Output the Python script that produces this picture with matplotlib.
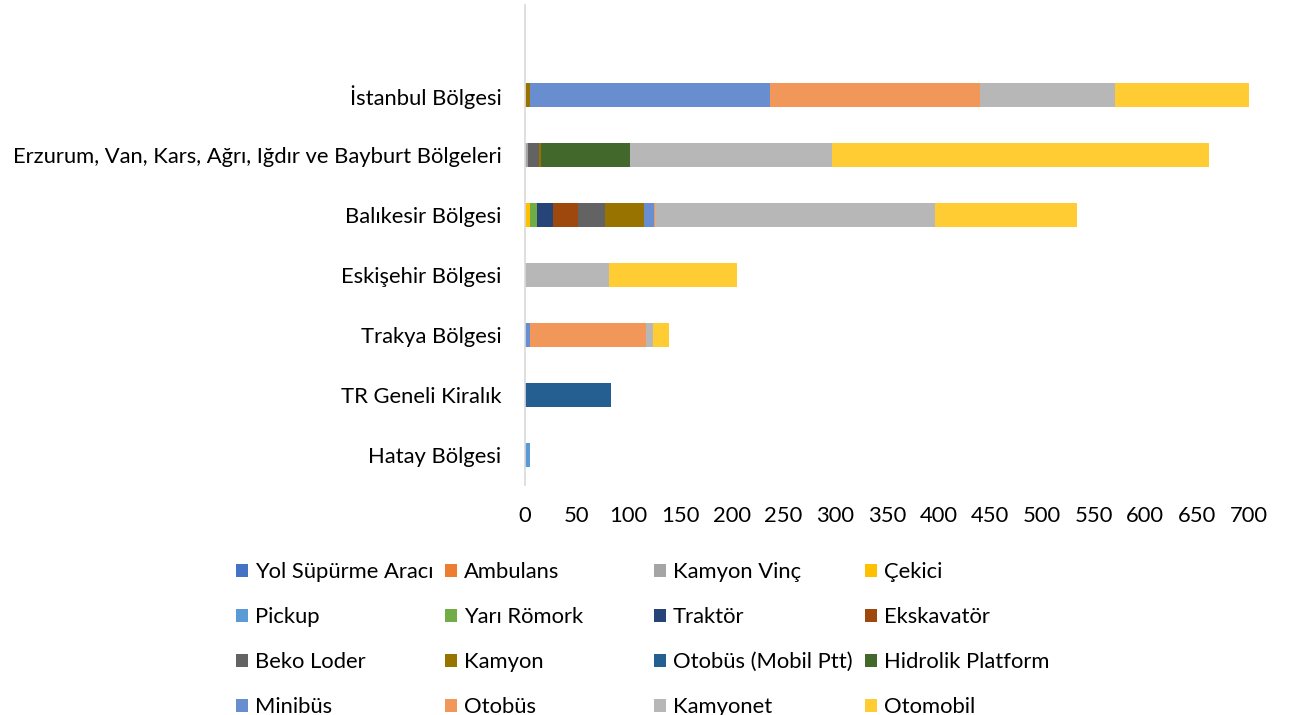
import matplotlib
matplotlib.use("Agg")
import matplotlib.pyplot as plt
import numpy as np

categories = ["Hatay Bölgesi", "TR Geneli Kiralık", "Trakya Bölgesi", "Eskişehir Bölgesi",
              "Balıkesir Bölgesi", "Erzurum, Van, Kars, Ağrı, Iğdır ve Bayburt Bölgeleri",
              "İstanbul Bölgesi"]

series_names = ["Yol Süpürme Aracı", "Ambulans", "Kamyon Vinç", "Çekici",
                "Pickup", "Yarı Römork", "Traktör", "Ekskavatör",
                "Beko Loder", "Kamyon", "Otobüs (Mobil Ptt)", "Hidrolik Platform",
                "Minibüs", "Otobüs", "Kamyonet", "Otomobil"]

# values per series, ordered as categories (Hatay ... İstanbul)
yol_supurme = [0, 0, 0, 0, 0, 0, 0]
ambulans    = [0, 0, 0, 0, 0, 0, 1]
kamyon_vinc = [0, 0, 0, 0, 0, 3, 0]
cekici      = [0, 0, 0, 0, 5, 0, 0]
pickup      = [5, 0, 0, 0, 0, 0, 0]
yari_romork = [0, 0, 0, 0, 7, 0, 0]
traktor     = [0, 0, 0, 0, 15, 0, 0]
ekskavator  = [0, 0, 0, 0, 24, 0, 0]
beko_loder  = [0, 0, 0, 0, 26, 11, 0]
kamyon      = [0, 0, 0, 0, 38, 1, 4]
otobus_ptt  = [0, 83, 0, 0, 0, 0, 0]
hidrolik    = [0, 0, 0, 0, 0, 87, 0]
minibus     = [0, 0, 5, 0, 10, 0, 232]
otobus      = [0, 0, 112, 0, 1, 0, 203]
kamyonet    = [0, 0, 7, 81, 271, 195, 131]
otomobil    = [0, 0, 15, 124, 137, 365, 132]

series_values = [yol_supurme, ambulans, kamyon_vinc, cekici, pickup, yari_romork,
                 traktor, ekskavator, beko_loder, kamyon, otobus_ptt, hidrolik,
                 minibus, otobus, kamyonet, otomobil]

colors = ["#4472C4", "#ED7D31", "#A5A5A5", "#FFC000", "#5B9BD5", "#70AD47",
          "#264478", "#9E480E", "#636363", "#997300", "#255E91", "#43682B",
          "#698ED0", "#F1975A", "#B7B7B7", "#FFCD33"]

xticks = [0, 50, 100, 150, 200, 250, 300, 350, 400, 450, 500, 550, 600, 650, 700]

plt.rcParams['font.family'] = ['Lato', 'DejaVu Sans']
FS = 15.8

W, H = 1293, 715
fig = plt.figure(figsize=(W / 100, H / 100), dpi=100)
ax = fig.add_axes([525 / W, 1 - 485 / H, (1248.5 - 525) / W, (485 - 5) / H])

y = np.arange(len(categories))
left = np.zeros(len(categories))
handles = []
for name, vals, c in zip(series_names, series_values, colors):
    vals = np.array(vals, dtype=float)
    b = ax.barh(y, vals, left=left, height=0.4, color=c, label=name, linewidth=0)
    handles.append(b)
    left += vals

ax.set_xlim(0, 700)
ax.set_ylim(-0.5, 7.5)
ax.set_yticks(y)
ax.set_yticklabels(categories, fontsize=FS)
ax.set_xticks(xticks)
ax.set_xticklabels([str(t) for t in xticks], fontsize=FS)
ax.tick_params(axis='both', length=0, colors='black')
ax.tick_params(axis='x', pad=15)
ax.tick_params(axis='y', pad=17)
for s in ["top", "right", "bottom"]:
    ax.spines[s].set_visible(False)
ax.spines["left"].set_color("#D9D9D9")
ax.spines["left"].set_linewidth(1.2)

# legend: 4 columns laid out row-wise like the original
col_x = [236, 445, 654, 865]
for c in range(4):
    hs = [handles[r * 4 + c] for r in range(4)]
    ls = [series_names[r * 4 + c] for r in range(4)]
    fig.legend(hs, ls, loc="upper left", bbox_to_anchor=(col_x[c] / W, 1 - 562 / H),
               frameon=False, fontsize=FS, handlelength=0.55, handleheight=0.55,
               handletextpad=0.3, labelspacing=1.14, borderpad=0, borderaxespad=0)

fig.savefig("out.png", dpi=100)
